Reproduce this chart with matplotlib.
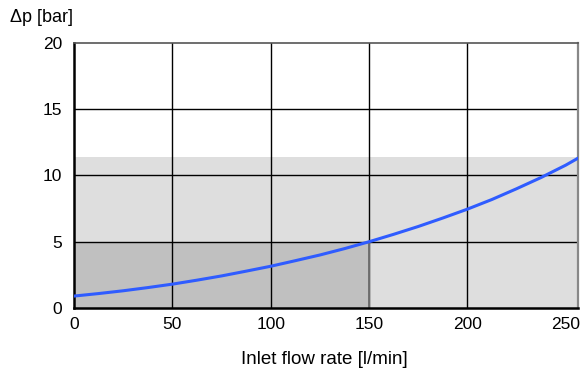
import matplotlib.pyplot as plt

plt.rcParams['font.family'] = ['Liberation Sans', 'DejaVu Sans']

# values
flow = [0, 12.5, 25, 37.5, 50, 62.5, 75, 87.5, 100, 112.5, 125, 137.5, 150,
        162.5, 175, 187.5, 200, 212.5, 225, 237.5, 250, 256.4]
dp = [0.9, 1.09, 1.30, 1.54, 1.8, 2.1, 2.42, 2.78, 3.15, 3.57, 4.0, 4.48, 5.0,
      5.56, 6.15, 6.79, 7.46, 8.19, 9.0, 9.85, 10.78, 11.32]
x_ticks = [0, 50, 100, 150, 200, 250]
y_ticks = [0, 5, 10, 15, 20]
x_grid = [50, 100, 150, 200]
y_grid = [5, 10, 15]
x_max = 256.4
light_top = 11.42
dark_x = 150
dark_top = 5

fig = plt.figure(figsize=(5.84, 3.72), dpi=100)
ax = fig.add_axes([74 / 584, 64 / 372, 504.3 / 584, 265 / 372])

# shaded zones
ax.fill_between([0, x_max], 0, light_top, color='#dedede', zorder=0, linewidth=0)
ax.fill_between([0, dark_x], 0, dark_top, color='#c0c0c0', zorder=0.5, linewidth=0)

for xg in x_grid:
    ax.axvline(xg, color='black', linewidth=1.0, zorder=1)
for yg in y_grid:
    ax.axhline(yg, color='black', linewidth=1.0, zorder=1)
ax.plot([dark_x, dark_x], [0, dark_top], color='#707070', linewidth=1.4, zorder=1.2)

ax.set_xlim(0, x_max)
ax.set_ylim(0, 20)
ax.set_xticks(x_ticks)
ax.set_yticks(y_ticks)

ax.plot(flow, dp, color='#2f5cff', linewidth=2.2, zorder=3, solid_capstyle='round')

for side in ['left', 'bottom']:
    ax.spines[side].set_linewidth(1.8)
    ax.spines[side].set_color('black')
ax.spines['top'].set_linewidth(1.2)
ax.spines['top'].set_color('#555555')
ax.spines['right'].set_linewidth(1.6)
ax.spines['right'].set_color('#888888')

ax.tick_params(axis='both', length=0, labelsize=12.5)
ax.tick_params(axis='x', pad=6.5)
ax.tick_params(axis='y', pad=8.5)
fig.text(324.5 / 584, 1 - 359 / 372, 'Inlet flow rate [l/min]', fontsize=13.5,
         ha='center', va='center')
fig.text(10 / 584, 1 - 17 / 372, 'Δp [bar]', fontsize=13, ha='left', va='center')

fig.savefig('out.png', dpi=100)
